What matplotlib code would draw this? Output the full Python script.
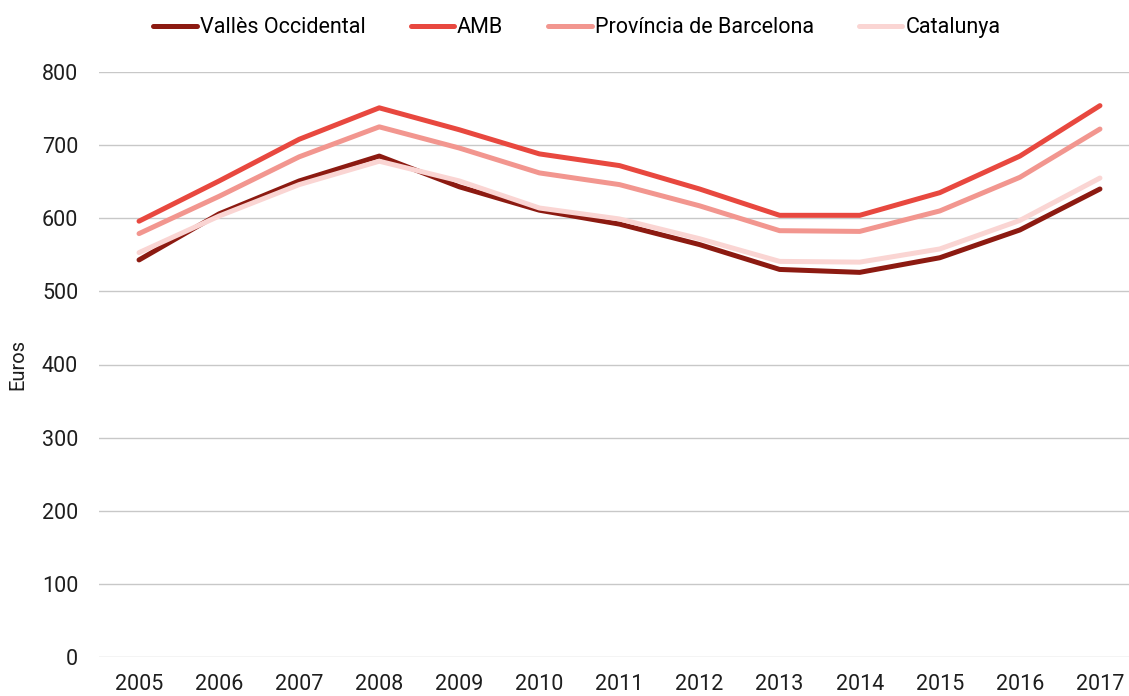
import numpy as np
import matplotlib.pyplot as plt

# --- DATA ---
years = [2005, 2006, 2007, 2008, 2009, 2010, 2011, 2012, 2013, 2014, 2015, 2016, 2017]
valles = [543, 606, 651, 685, 643, 611, 592, 564, 530, 526, 546, 584, 640]
amb = [596, 651, 708, 751, 721, 688, 672, 640, 604, 604, 635, 685, 754]
provincia = [579, 630, 684, 725, 696, 662, 646, 617, 583, 582, 610, 656, 722]
catalunya = [553, 603, 646, 678, 651, 614, 599, 572, 541, 540, 558, 597, 655]

series_names = ['Vallès Occidental', 'AMB', 'Província de Barcelona', 'Catalunya']
series_colors = ['#8c1a11', '#e8483f', '#f2968f', '#fad5d3']
yticks = [0, 100, 200, 300, 400, 500, 600, 700, 800]

plt.rcParams['font.family'] = ['Roboto', 'DejaVu Sans']

fig = plt.figure(figsize=(11.29, 6.96), dpi=100)
W, H = 1129, 696
ax = fig.add_axes([99 / W, (H - 657) / H, (1140 - 99) / W, (657 - 72) / H])

for vals, name, col in zip([valles, amb, provincia, catalunya], series_names, series_colors):
    ax.plot(years, vals, color=col, linewidth=3.6, label=name, solid_capstyle='round')

ax.set_xlim(2004.5, 2017.5)
ax.set_ylim(0, 800)
ax.set_xticks(years)
ax.set_xticklabels([str(y) for y in years])
ax.set_yticks(yticks)
ax.grid(axis='y', color='#c8c8c8', linewidth=1)
ax.set_axisbelow(True)
for s in ax.spines.values():
    s.set_visible(False)
ax.tick_params(length=0, labelsize=15.5, colors='#1e1e1e')
ax.tick_params(axis='y', pad=15)
ax.tick_params(axis='x', pad=12)
ax.set_ylabel('Euros', fontsize=14.5, color='#1e1e1e')
ax.yaxis.set_label_coords(-72 / (1140 - 99), 0.5)

fig.legend(loc='upper center', bbox_to_anchor=(577 / W, 1.0), ncol=4, frameon=False,
           fontsize=15.5, handlelength=2.0, columnspacing=2.1, handletextpad=0.15,
           borderaxespad=0.4)

fig.savefig('out.png', dpi=100)
